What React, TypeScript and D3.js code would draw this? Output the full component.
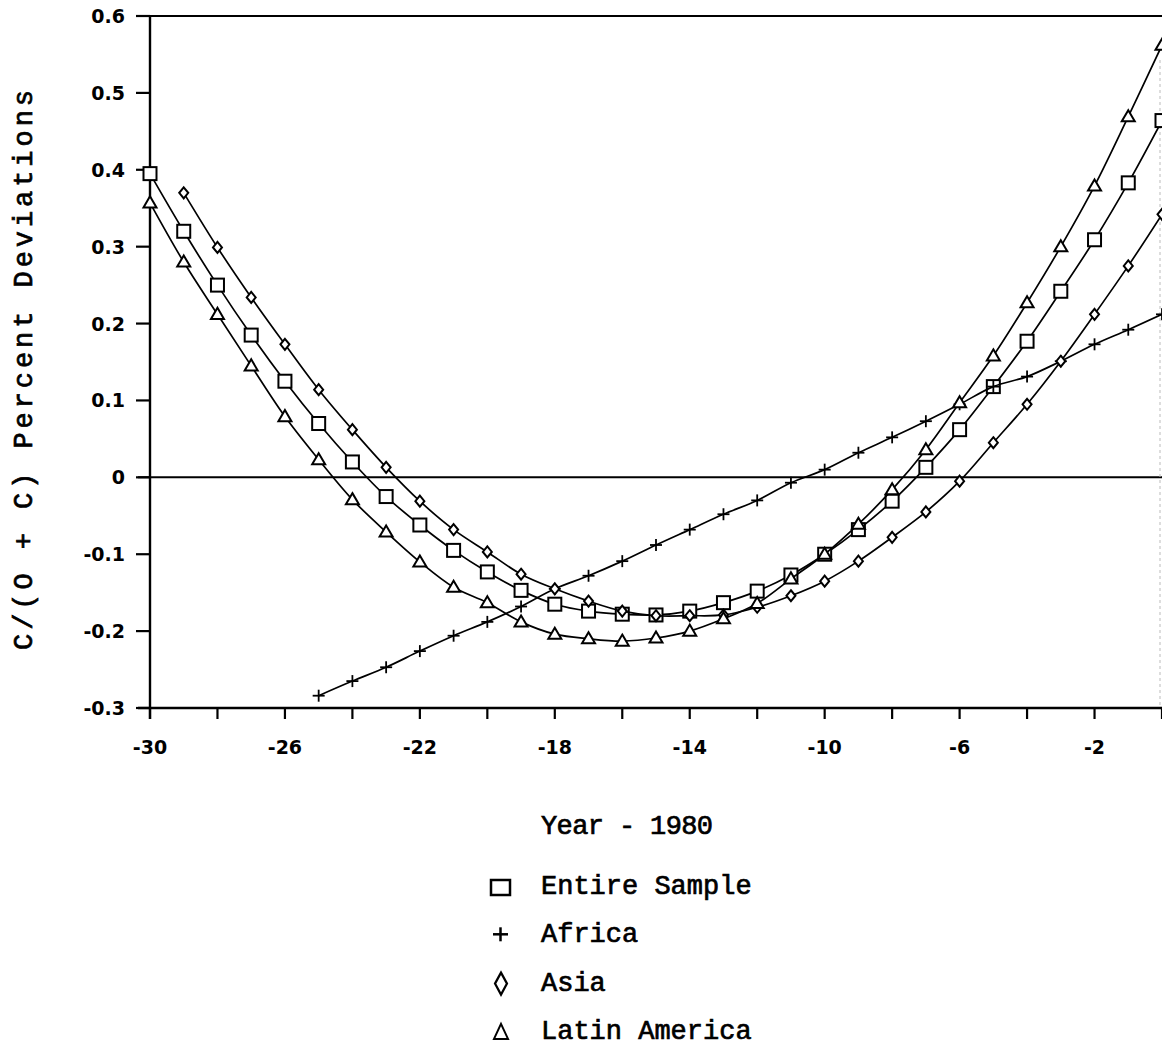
import React from "react";
import * as d3 from "d3";

const years = d3.range(-30, 1); // -30..0
const entireSample = [0.395, 0.32, 0.25, 0.185, 0.125, 0.07, 0.02, -0.025, -0.062, -0.095, -0.123, -0.147, -0.165, -0.174, -0.178, -0.179, -0.174, -0.163, -0.148, -0.127, -0.1, -0.068, -0.031, 0.013, 0.062, 0.118, 0.177, 0.242, 0.309, 0.383, 0.464];
const africaYears = d3.range(-25, 1);
const africa = [-0.284, -0.265, -0.247, -0.226, -0.206, -0.188, -0.168, -0.145, -0.128, -0.109, -0.088, -0.068, -0.048, -0.03, -0.007, 0.01, 0.032, 0.052, 0.073, 0.095, 0.118, 0.131, 0.151, 0.173, 0.192, 0.212];
const asiaYears = d3.range(-29, 1);
const asia = [0.37, 0.299, 0.234, 0.173, 0.114, 0.062, 0.013, -0.031, -0.068, -0.097, -0.126, -0.145, -0.161, -0.174, -0.18, -0.18, -0.179, -0.169, -0.154, -0.135, -0.109, -0.078, -0.045, -0.005, 0.045, 0.095, 0.151, 0.212, 0.275, 0.342];
const latinAmerica = [0.357, 0.28, 0.212, 0.145, 0.079, 0.023, -0.029, -0.071, -0.11, -0.143, -0.163, -0.188, -0.204, -0.21, -0.213, -0.209, -0.2, -0.184, -0.164, -0.132, -0.1, -0.061, -0.016, 0.036, 0.097, 0.158, 0.227, 0.3, 0.379, 0.469, 0.562];

const xTicks = d3.range(-30, 1, 2);
const xLabelTicks = [-30, -26, -22, -18, -14, -10, -6, -2];
const yTicks = [-0.3, -0.2, -0.1, 0, 0.1, 0.2, 0.3, 0.4, 0.5, 0.6];
const yTickLabels = ["-0.3", "-0.2", "-0.1", "0", "0.1", "0.2", "0.3", "0.4", "0.5", "0.6"];
const legendLabels = ["Entire Sample", "Africa", "Asia", "Latin America"];

const W = 1162;
const H = 1047;

function Marker({ kind, x, y }: { kind: string; x: number; y: number }) {
  const common = { fill: "white", stroke: "black", strokeWidth: 2 };
  if (kind === "square") {
    const w = 13, h = 13;
    return <rect x={x - w / 2} y={y - h / 2} width={w} height={h} {...common} />;
  }
  if (kind === "plus") {
    const r = 6;
    return (
      <g stroke="black" strokeWidth={1.8}>
        <line x1={x - r} x2={x + r} y1={y} y2={y} />
        <line x1={x} x2={x} y1={y - r} y2={y + r} />
      </g>
    );
  }
  if (kind === "diamond") {
    const w = 4.5, h = 5.5;
    return <path d={`M${x},${y - h}L${x + w},${y}L${x},${y + h}L${x - w},${y}Z`} {...common} />;
  }
  const r = 6.5;
  return <path d={`M${x},${y - r}L${x + r},${y + r * 0.7}L${x - r},${y + r * 0.7}Z`} {...common} />;
}

export default function App() {
  const x = d3.scaleLinear().domain([-30, 0]).range([150, 1162]);
  const y = d3.scaleLinear().domain([-0.3, 0.6]).range([708, 16]);
  const line = d3
    .line<[number, number]>()
    .x((d) => x(d[0]))
    .y((d) => y(d[1]))
    .curve(d3.curveCatmullRom.alpha(0.5));

  const series = [
    { kind: "square", xs: years, ys: entireSample },
    { kind: "plus", xs: africaYears, ys: africa },
    { kind: "diamond", xs: asiaYears, ys: asia },
    { kind: "triangle", xs: years, ys: latinAmerica },
  ];

  const tickFont = "'DejaVu Sans', sans-serif";
  const monoFont = "'Liberation Mono', 'Courier New', monospace";
  const legendKinds = ["square", "plus", "diamond", "triangle"];
  const textStroke = { stroke: "black", strokeWidth: 0.7 };

  return (
    <svg width={W} height={H} style={{ position: "absolute", left: 0, top: 0, background: "white" }}>
      <rect width={W} height={H} fill="white" />
      {/* frame */}
      <line x1={138} x2={W} y1={y(0.6)} y2={y(0.6)} stroke="black" strokeWidth={2.2} />
      <line x1={138} x2={W} y1={y(-0.3)} y2={y(-0.3)} stroke="black" strokeWidth={2.4} />
      <line x1={138} x2={W} y1={y(0)} y2={y(0)} stroke="black" strokeWidth={2} />
      <line x1={x(-30)} x2={x(-30)} y1={y(0.6)} y2={y(-0.3) + 11} stroke="black" strokeWidth={2.4} />
      <line x1={W - 2} x2={W - 2} y1={60} y2={y(-0.3)} stroke="#bbb" strokeWidth={1} strokeDasharray="3,3" />
      {/* y ticks */}
      {yTicks.map((t, i) => (
        <g key={i}>
          <line x1={136} x2={x(-30)} y1={y(t)} y2={y(t)} stroke="black" strokeWidth={2.2} />
          <text
            x={125}
            y={y(t) + 7}
            textAnchor="end"
            fontFamily={tickFont}
            fontWeight="bold"
            fontSize={19}
          >
            {yTickLabels[i]}
          </text>
        </g>
      ))}
      {/* x ticks */}
      {xTicks.map((t) => (
        <line key={t} x1={x(t)} x2={x(t)} y1={y(-0.3)} y2={y(-0.3) + 11} stroke="black" strokeWidth={2.2} />
      ))}
      {xLabelTicks.map((t) => (
        <text
          key={t}
          x={x(t)}
          y={754}
          textAnchor="middle"
          fontFamily={tickFont}
          fontWeight="bold"
          fontSize={19}
        >
          {String(t)}
        </text>
      ))}
      {/* series */}
      {series.map((s, i) => {
        const pts: [number, number][] = s.xs.map((xx, j) => [xx, s.ys[j]]);
        return (
          <g key={i}>
            <path d={line(pts) || ""} fill="none" stroke="black" strokeWidth={1.7} />
            {pts.map((p, j) => (
              <Marker key={j} kind={s.kind} x={x(p[0])} y={y(p[1])} />
            ))}
          </g>
        );
      })}
      {/* axis titles */}
      <text
        transform={`translate(32,370) rotate(-90)`}
        textAnchor="middle"
        fontFamily={monoFont}
        fontSize={27}
        textLength={560}
        lengthAdjust="spacing"
        {...textStroke}
      >
        C/(O + C) Percent Deviations
      </text>
      <text x={541} y={834} fontFamily={monoFont} fontSize={27} textLength={172} lengthAdjust="spacing" {...textStroke}>
        Year - 1980
      </text>
      {/* legend */}
      {legendLabels.map((lab, i) => {
        const cy = 887 + i * 48.3;
        return (
          <g key={lab}>
            {legendKinds[i] === "square" ? (
              <rect x={491} y={cy - 7} width={19} height={15} fill="white" stroke="black" strokeWidth={2.5} />
            ) : legendKinds[i] === "plus" ? (
              <g stroke="black" strokeWidth={2.5}>
                <line x1={493} x2={508} y1={cy - 1} y2={cy - 1} />
                <line x1={500.5} x2={500.5} y1={cy - 8} y2={cy + 6} />
              </g>
            ) : legendKinds[i] === "diamond" ? (
              <path d={`M501,${cy - 11}L507,${cy}L501,${cy + 11}L495,${cy}Z`} fill="white" stroke="black" strokeWidth={2.2} />
            ) : (
              <path d={`M501,${cy - 8}L508,${cy + 7}L494,${cy + 7}Z`} fill="white" stroke="black" strokeWidth={2} />
            )}
            <text x={541} y={cy + 7} fontFamily={monoFont} fontSize={27} {...textStroke}>
              {lab}
            </text>
          </g>
        );
      })}
    </svg>
  );
}
